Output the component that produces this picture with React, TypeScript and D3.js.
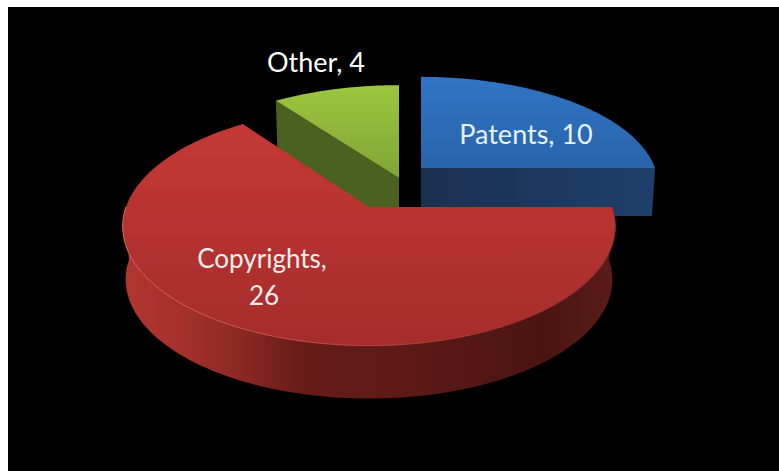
import React from "react";
import * as d3 from "d3";

// Intellectual property counts by category
const categories = ["Patents", "Copyrights", "Other"];
const counts = [10, 26, 4];

const WIDTH = 779;
const HEIGHT = 471;
const PERSPECTIVE = 0.163;

type Slice = {
  apex: [number, number];
  rx: number;
  ry: number;
  depth: number;
  taper: number;
};

// Exploded placement of every wedge on the tilted disc
const placement: Record<string, Slice> = {
  Patents: { apex: [421, 168], rx: 234, ry: 106, depth: 48, taper: 0.987 },
  Copyrights: { apex: [369, 207], rx: 243, ry: 116, depth: 53, taper: 0.988 },
  Other: { apex: [399, 178], rx: 237, ry: 108, depth: 52, taper: 0.988 },
};

const wedges = d3.pie<number>().sort(null)(counts);

// d3.pie angles run clockwise from north; this lays them on the tilted plane
function project(s: Slice, angle: number, lower = false): [number, number] {
  const u = Math.sin(angle);
  const v = -Math.cos(angle);
  const w = 1 - PERSPECTIVE * v;
  const t = lower ? s.taper : 1;
  return [
    s.apex[0] + (s.rx * t * u) / w,
    s.apex[1] + (lower ? s.depth : 0) + (s.ry * v) / w,
  ];
}

const samples = (a0: number, a1: number) =>
  d3.range(0, 121).map((i) => a0 + ((a1 - a0) * i) / 120);

const path = d3.line<[number, number]>();

function topFace(s: Slice, a0: number, a1: number) {
  return path([s.apex, ...samples(a0, a1).map((a) => project(s, a))]) + "Z";
}

function rimEdge(s: Slice, a0: number, a1: number) {
  return path(samples(a0, a1).map((a) => project(s, a))) as string;
}

function rimWall(s: Slice, a0: number, a1: number) {
  const angles = samples(a0, a1);
  return (
    path([
      ...angles.map((a) => project(s, a)),
      ...angles.slice().reverse().map((a) => project(s, a, true)),
    ]) + "Z"
  );
}

function cutFace(s: Slice, a: number) {
  const rim = project(s, a);
  const rimLow = project(s, a, true);
  const apexLow: [number, number] = [s.apex[0], s.apex[1] + s.depth];
  return path([s.apex, rim, rimLow, apexLow]) + "Z";
}

const redWallStops: [number, string][] = [
  [0, "#b23630"],
  [0.12, "#a5302b"],
  [0.235, "#8c2823"],
  [0.36, "#681c18"],
  [0.62, "#5a1916"],
  [0.85, "#4a1411"],
  [1, "#5a1c18"],
];

export default function App() {
  const [patents, copyrights, other] = wedges;
  const pS = placement[categories[0]];
  const cS = placement[categories[1]];
  const oS = placement[categories[2]];
  const labelStyle = {
    fontFamily: "Lato, 'Open Sans', sans-serif",
    fontSize: 27,
    textAnchor: "middle" as const,
  };
  const wallEnd = Math.min(copyrights.endAngle, (3 * Math.PI) / 2);
  return (
    <svg
      width={WIDTH}
      height={HEIGHT}
      viewBox={`0 0 ${WIDTH} ${HEIGHT}`}
      style={{ position: "absolute", left: 0, top: 0, display: "block" }}
    >
      <defs>
        <linearGradient id="blueTop" x1="0" y1="0" x2="0" y2="1">
          <stop offset="0" stopColor="#3074c4" />
          <stop offset="1" stopColor="#2964aa" />
        </linearGradient>
        <linearGradient id="blueCut" x1="0" y1="0" x2="1" y2="0">
          <stop offset="0" stopColor="#1a3050" />
          <stop offset="1" stopColor="#1f3f6c" />
        </linearGradient>
        <linearGradient id="greenTop" x1="0" y1="0" x2="0" y2="1">
          <stop offset="0" stopColor="#9cc63e" />
          <stop offset="1" stopColor="#7fa534" />
        </linearGradient>
        <linearGradient id="redTop" x1="0" y1="0" x2="0" y2="1">
          <stop offset="0" stopColor="#c43935" />
          <stop offset="1" stopColor="#a42c2b" />
        </linearGradient>
        <linearGradient id="redWall" x1="0" y1="0" x2="1" y2="0">
          {redWallStops.map(([o, c]) => (
            <stop key={o} offset={o} stopColor={c} />
          ))}
        </linearGradient>
        <linearGradient id="redRim" x1="0" y1="0" x2="1" y2="0">
          <stop offset="0" stopColor="#dc6a5e" />
          <stop offset="0.45" stopColor="#c44a40" />
          <stop offset="1" stopColor="#8e2a26" />
        </linearGradient>
      </defs>
      <rect width={WIDTH} height={HEIGHT} fill="#ffffff" />
      <rect x={8} y={7} width={WIDTH - 8} height={HEIGHT - 7} fill="#000000" />

      {/* Patents wedge: its cut face looks toward the viewer along the east edge */}
      <path d={cutFace(pS, patents.endAngle)} fill="url(#blueCut)" />
      <path d={topFace(pS, patents.startAngle, patents.endAngle)} fill="url(#blueTop)" />

      {/* Other wedge: the cut face on its west edge sits behind the large wedge */}
      <path d={cutFace(oS, other.startAngle)} fill="#4a611f" />
      <path d={topFace(oS, other.startAngle, other.endAngle)} fill="url(#greenTop)" />

      {/* Copyrights wedge with its curved rim and the bevel highlight along it */}
      <path d={rimWall(cS, copyrights.startAngle, wallEnd)} fill="url(#redWall)" />
      <path d={topFace(cS, copyrights.startAngle, copyrights.endAngle)} fill="url(#redTop)" />
      <path
        d={rimEdge(cS, copyrights.startAngle, wallEnd)}
        fill="none"
        stroke="url(#redRim)"
        strokeWidth={1}
      />

      <g fill="#ffffff" style={labelStyle}>
        <text x={526} y={144} fill="#e6f3ff">
          {`${categories[0]}, ${counts[0]}`}
        </text>
        <text y={268} fill="#fbeeee" style={{ fontSize: 26 }}>
          <tspan x={262}>{`${categories[1]},`}</tspan>
          <tspan x={264} dy={37}>{counts[1]}</tspan>
        </text>
        <text x={316} y={72}>
          {`${categories[2]}, ${counts[2]}`}
        </text>
      </g>
    </svg>
  );
}
